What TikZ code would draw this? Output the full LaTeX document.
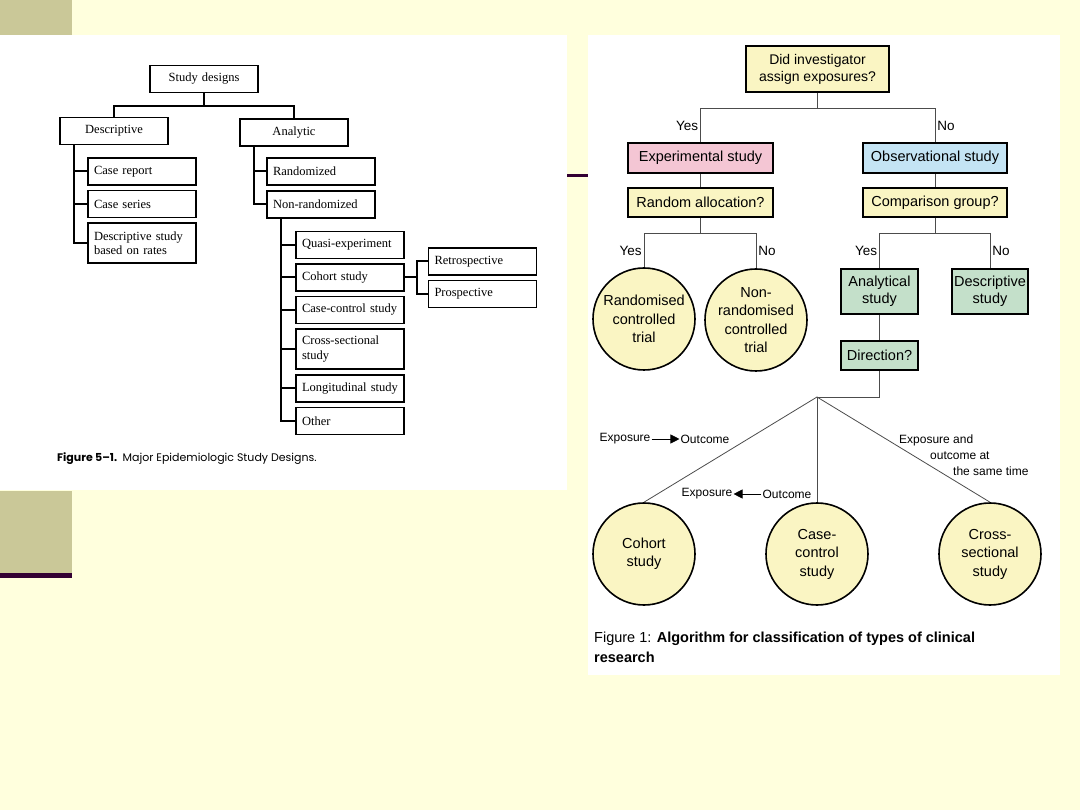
\documentclass[tikz,border=0pt]{standalone}
\usepackage{fontspec}
\setmainfont{Liberation Serif}
\newfontfamily\sfam{Liberation Sans}
\newfontfamily\capfam{Poppins}
\usetikzlibrary{arrows.meta}
\definecolor{slide}{RGB}{255,255,221}
\definecolor{khaki}{RGB}{202,200,152}
\definecolor{plum}{RGB}{51,0,51}
\definecolor{yel}{RGB}{250,245,195}
\definecolor{pnk}{RGB}{244,198,212}
\definecolor{blu}{RGB}{196,228,244}
\definecolor{grn}{RGB}{196,224,202}

\begin{document}
\begin{tikzpicture}[x=1pt, y=-1pt,
    lbox/.style={draw, line width=1.4pt, fill=white, minimum height=27pt, inner xsep=6pt, inner ysep=2pt, text width=96pt, align=left, font=\fontsize{12.5}{14.5}\selectfont},
    tr/.style={line width=2pt},
    rbox/.style={draw, line width=1.6pt, fill=yel, inner sep=1pt, align=center, font=\sfam\fontsize{14.5}{17}\selectfont},
    circ/.style={circle, draw, line width=1.6pt, fill=yel, minimum size=102pt, inner sep=0pt, align=center, font=\sfam\fontsize{14.5}{18.5}\selectfont},
    lk/.style={line width=0.8pt, draw=black!70},
    yn/.style={inner sep=2pt, font=\sfam\fontsize{13.5}{16}\selectfont},
    sm/.style={inner sep=1pt, align=left, font=\sfam\fontsize{12}{16}\selectfont}]

    \useasboundingbox (0,0) rectangle (1080,810);
    \fill [slide] (0,0) rectangle (1080,810);
    \fill [khaki] (0,0) rectangle (72,100);
    \fill [khaki] (0,491) rectangle (72,573);
    \fill [plum] (0,573) rectangle (72,578);
    \fill [plum] (500,174.5) rectangle (590,177.5);
    \fill [white] (0,35) rectangle (567,490);
    \fill [white] (588,35) rectangle (1060,675);

    \node [lbox, align=center] (a) at (204, 79) {Study designs};
    \node [lbox, align=center] (b) at (114, 131) {Descriptive};
    \node [lbox, align=center] (c) at (294, 132.5) {Analytic};
    \node [lbox] (d) at (142, 171.5) {Case report};
    \node [lbox] (e) at (142, 204) {Case series};
    \node [lbox, minimum height=40pt] (f) at (142, 243) {Descriptive study\\based on rates};
    \node [lbox] (g) at (321, 171.5) {Randomized};
    \node [lbox] (h) at (321, 204.5) {Non-randomized};
    \node [lbox] (i) at (350, 245) {Quasi-experiment};
    \node [lbox] (j) at (350, 277.5) {Cohort study};
    \node [lbox] (k) at (350, 310) {Case-control study};
    \node [lbox, minimum height=40pt] (l) at (350, 349) {Cross-sectional\\study};
    \node [lbox] (m) at (350, 388.5) {Longitudinal study};
    \node [lbox] (n) at (350, 421) {Other};
    \node [lbox] (o) at (482.5, 261.5) {Retrospective};
    \node [lbox] (p) at (482.5, 294) {Prospective};
    \node [anchor=west, inner sep=0pt, font=\capfam\fontsize{11}{13}\selectfont] (ii) at (57, 459) {\textbf{Figure 5–1.}\enspace Major Epidemiologic Study Designs.};

    \draw [tr] (a.south) -- ++(0,13) -| (b.north);
    \draw [tr] (a.south) -- ++(0,13) -| (c.north);
    \draw [tr] ([xshift=15pt]b.south west) |- (d.west);
    \draw [tr] ([xshift=15pt]b.south west) |- (e.west);
    \draw [tr] ([xshift=15pt]b.south west) |- (f.west);
    \draw [tr] ([xshift=15pt]c.south west) |- (g.west);
    \draw [tr] ([xshift=15pt]c.south west) |- (h.west);
    \draw [tr] ([xshift=15pt]h.south west) |- (i.west);
    \draw [tr] ([xshift=15pt]h.south west) |- (j.west);
    \draw [tr] ([xshift=15pt]h.south west) |- (k.west);
    \draw [tr] ([xshift=15pt]h.south west) |- (l.west);
    \draw [tr] ([xshift=15pt]h.south west) |- (m.west);
    \draw [tr] ([xshift=15pt]h.south west) |- (n.west);
    \draw [tr] (j.east) -- ++(12,0) |- (o.west);
    \draw [tr] (j.east) -- ++(12,0) |- (p.west);

    \node [rbox, minimum width=143pt, minimum height=46pt, font=\sfam\fontsize{14}{17}\selectfont] (q) at (817.5, 69) {Did investigator\\assign exposures?};
    \node [rbox, fill=pnk, minimum width=145pt, minimum height=30pt] (r) at (700.5, 158) {Experimental study};
    \node [rbox, fill=blu, minimum width=144pt, minimum height=30pt] (s) at (935, 158) {Observational study};
    \node [rbox, minimum width=145pt, minimum height=29pt] (t) at (700.5, 202.5) {Random allocation?};
    \node [rbox, minimum width=144pt, minimum height=29pt] (u) at (935, 202.5) {Comparison group?};
    \node [circ] (v) at (644, 319) {Randomised\\controlled\\trial};
    \node [circ] (w) at (756, 320) {Non-\\randomised\\controlled\\trial};
    \node [rbox, fill=grn, minimum width=77pt, minimum height=45pt] (x) at (879.5, 291.5) {Analytical\\study};
    \node [rbox, fill=grn, minimum width=76pt, minimum height=45pt] (y) at (990, 291.5) {Descriptive\\study};
    \node [rbox, fill=grn, minimum width=77pt, minimum height=29pt] (z) at (879.5, 355.5) {Direction?};
    \coordinate (kk) at (817, 397);
    \node [circ] (aa) at (644, 554) {Cohort\\study};
    \node [circ] (bb) at (817, 554) {Case-\\control\\study};
    \node [circ] (cc) at (990, 554) {Cross-\\sectional\\study};
    \node [sm] (dd) at (625, 439) {Exposure};
    \node [sm] (ee) at (705, 439) {Outcome};
    \node [sm] (ff) at (707, 494) {Exposure};
    \node [sm] (gg) at (787, 494) {Outcome};
    \node [sm, anchor=west] (hh) at (898, 455) {Exposure and\\\hspace*{31pt}outcome at\\\hspace*{54pt}the same time};
    \node [anchor=north west, inner sep=0pt, align=left, font=\sfam\fontsize{14.5}{20}\selectfont] (jj) at (594, 632) {Figure 1: \textbf{Algorithm for classification of types of clinical}\\\textbf{research}};

    \draw [lk] (q.south) -- ++(0,16) -| node [yn, near end, left] (ll) {Yes} (r.north);
    \draw [lk] (q.south) -- ++(0,16) -| node [yn, near end, right] (mm) {No} (s.north);
    \draw [lk] (r) -- (t);
    \draw [lk] (s) -- (u);
    \draw [lk] (t.south) -- ++(0,16) -| node [yn, near end, left] (nn) {Yes} (v.north);
    \draw [lk] (t.south) -- ++(0,16) -| node [yn, near end, right] (oo) {No} (w.north);
    \draw [lk] (u.south) -- ++(0,16) -| node [yn, near end, left] (pp) {Yes} (x.north);
    \draw [lk] (u.south) -- ++(0,16) -| node [yn, near end, right] (qq) {No} (y.north);
    \draw [lk] (x) -- (z);
    \draw [lk] (z.south) |- (kk);
    \draw [lk] (kk) -- (aa.north);
    \draw [lk] (kk) -- (bb.north);
    \draw [lk] (kk) -- (cc.north);
    \draw [line width=0.7pt, -{Triangle[length=9pt, width=9pt]}] (dd) -- (ee);
    \draw [line width=0.7pt, -{Triangle[length=9pt, width=9pt]}] (gg) -- (ff);

\end{tikzpicture}
\end{document}
